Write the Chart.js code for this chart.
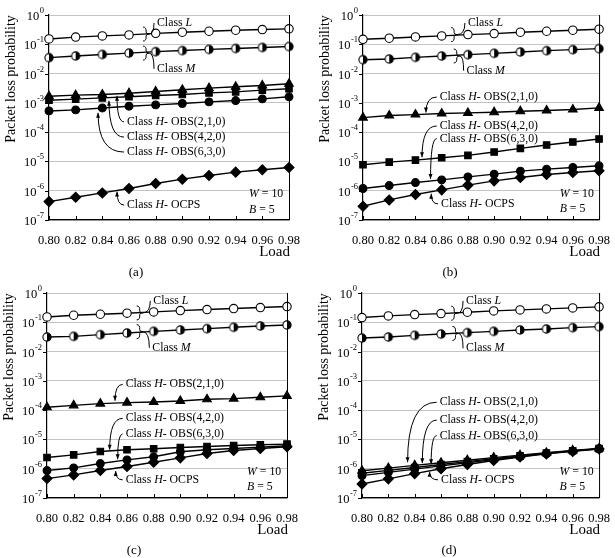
<!DOCTYPE html>
<html>
<head>
<meta charset="utf-8">
<script src="https://cdn.jsdelivr.net/npm/chart.js@4/dist/chart.umd.min.js"></script>
<style>
  html, body { margin: 0; background: #fff; }
  #wrap { position: relative; width: 615px; height: 558px; }
  canvas { position: absolute; }
</style>
</head>
<body>
<div id="wrap">
  <canvas id="pa" width="307" height="279" style="left:0;top:0"></canvas>
  <canvas id="pb" width="308" height="279" style="left:307px;top:0"></canvas>
  <canvas id="pc" width="307" height="279" style="left:0;top:279px"></canvas>
  <canvas id="pd" width="308" height="279" style="left:307px;top:279px"></canvas>
</div>
<script>
// ---------- data ----------
const loads  = [0.80, 0.82, 0.84, 0.86, 0.88, 0.90, 0.92, 0.94, 0.96, 0.98];
const yTicks = [1, 1e-1, 1e-2, 1e-3, 1e-4, 1e-5, 1e-6, 1e-7];

// (a)
const aL   = [0.152, 0.176, 0.193, 0.209, 0.236, 0.258, 0.279, 0.302, 0.318, 0.336];
const aM   = [0.035, 0.040, 0.045, 0.050, 0.056, 0.061, 0.067, 0.072, 0.078, 0.084];
const aH21 = [1.69e-3, 1.83e-3, 1.93e-3, 2.14e-3, 2.45e-3, 2.79e-3, 3.18e-3, 3.54e-3, 3.93e-3, 4.48e-3];
const aH42 = [1.23e-3, 1.34e-3, 1.48e-3, 1.61e-3, 1.78e-3, 1.93e-3, 2.20e-3, 2.38e-3, 2.72e-3, 3.02e-3];
const aH63 = [5.3e-4, 5.75e-4, 6.7e-4, 7.7e-4, 8.5e-4, 9.5e-4, 1.08e-3, 1.20e-3, 1.37e-3, 1.61e-3];
const aOC  = [4.25e-7, 6.0e-7, 8.4e-7, 1.19e-6, 1.76e-6, 2.48e-6, 3.31e-6, 4.31e-6, 5.18e-6, 6.23e-6];
// (b)
const bL   = [0.148, 0.161, 0.178, 0.193, 0.214, 0.232, 0.258, 0.279, 0.302, 0.327];
const bM   = [0.0298, 0.0314, 0.0358, 0.0398, 0.0442, 0.0491, 0.0546, 0.0607, 0.0657, 0.071];
const bH21 = [3.14e-4, 3.68e-4, 3.98e-4, 4.31e-4, 4.54e-4, 4.79e-4, 5.18e-4, 5.46e-4, 5.9e-4, 6.74e-4];
const bH42 = [7.7e-6, 9.5e-6, 1.11e-5, 1.34e-5, 1.61e-5, 2.09e-5, 2.79e-5, 3.63e-5, 4.6e-5, 5.83e-5];
const bH63 = [1.19e-6, 1.5e-6, 1.9e-6, 2.35e-6, 2.98e-6, 3.68e-6, 4.67e-6, 5.46e-6, 6.23e-6, 7.1e-6];
const bOC  = [2.94e-7, 4.85e-7, 7.4e-7, 1.07e-6, 1.55e-6, 2.17e-6, 2.83e-6, 3.58e-6, 4.2e-6, 4.79e-6];
// (c)
const cL   = [0.152, 0.174, 0.188, 0.204, 0.226, 0.251, 0.272, 0.294, 0.318, 0.344];
const cM   = [0.0314, 0.0331, 0.0378, 0.043, 0.0491, 0.0546, 0.0607, 0.0674, 0.0748, 0.081];
const cH21 = [1.25e-4, 1.46e-4, 1.67e-4, 1.81e-4, 1.9e-4, 2.06e-4, 2.35e-4, 2.48e-4, 2.75e-4, 3.06e-4];
const cH42 = [2.42e-6, 2.98e-6, 3.88e-6, 4.42e-6, 4.79e-6, 5.32e-6, 5.75e-6, 6.23e-6, 6.57e-6, 6.92e-6];
const cH63 = [8.65e-7, 1.07e-6, 1.5e-6, 2.01e-6, 2.55e-6, 3.78e-6, 4.42e-6, 4.91e-6, 5.46e-6, 6.07e-6];
const cOC  = [4.6e-7, 6.15e-7, 8.65e-7, 1.19e-6, 1.67e-6, 2.35e-6, 3.31e-6, 4.2e-6, 4.91e-6, 5.6e-6];
// (d)
const dL   = [0.145, 0.165, 0.183, 0.198, 0.22, 0.245, 0.265, 0.287, 0.31, 0.336];
const dM   = [0.029, 0.0314, 0.0358, 0.0398, 0.0442, 0.0491, 0.0546, 0.059, 0.0657, 0.071];
const dH21 = [8.5e-7, 1.05e-6, 1.3e-6, 1.6e-6, 1.95e-6, 2.4e-6, 2.9e-6, 3.5e-6, 4.2e-6, 4.9e-6];
const dH42 = [7.0e-7, 8.8e-7, 1.1e-6, 1.4e-6, 1.75e-6, 2.2e-6, 2.75e-6, 3.4e-6, 4.1e-6, 4.85e-6];
const dH63 = [5.8e-7, 7.5e-7, 9.7e-7, 1.25e-6, 1.6e-6, 2.05e-6, 2.6e-6, 3.3e-6, 4.0e-6, 4.8e-6];
const dOC  = [3.0e-7, 4.5e-7, 6.8e-7, 1.0e-6, 1.4e-6, 1.9e-6, 2.5e-6, 3.2e-6, 3.9e-6, 4.7e-6];

const SERIF = '"Liberation Serif", "Times New Roman", serif';

// half-filled circle marker for class M
function halfDot(r) {
  const s = Math.ceil(r * 2 + 3);
  const c = document.createElement('canvas');
  c.width = s; c.height = s;
  const g = c.getContext('2d');
  const m = s / 2;
  g.fillStyle = '#fff';
  g.beginPath(); g.arc(m, m, r, 0, Math.PI * 2); g.fill();
  g.fillStyle = '#000';
  g.beginPath(); g.arc(m, m, r, -Math.PI / 2, Math.PI / 2); g.closePath(); g.fill();
  g.strokeStyle = '#000'; g.lineWidth = 1.1;
  g.beginPath(); g.arc(m, m, r, 0, Math.PI * 2); g.stroke();
  return c;
}
const HALF = halfDot(4.1);

function line(vals, style, radius, fill) {
  return {
    data: loads.map((x, i) => ({ x, y: vals[i] })),
    borderColor: '#000', borderWidth: 1.4,
    pointStyle: style, pointRadius: radius,
    pointBackgroundColor: fill, pointBorderColor: '#000', pointBorderWidth: 1.1,
    clip: false, tension: 0
  };
}

function seriesFor(L, M, H21, H42, H63, OC) {
  return [
    line(L,   'circle',   4.2, '#fff'),
    line(M,   HALF,       4.1, '#000'),
    line(H21, 'triangle', 5.0, '#000'),
    line(H42, 'rect',     4.6, '#000'),
    line(H63, 'circle',   3.9, '#000'),
    line(OC,  'rectRot',  5.0, '#000')
  ];
}

const H = (rest) => [['Class ', false], ['H', true], [rest, false]];

function drawParts(ctx, parts, x, y, size) {
  parts.forEach(([t, it]) => {
    ctx.font = (it ? 'italic ' : '') + size + 'px ' + SERIF;
    ctx.fillText(t, x, y);
    x += ctx.measureText(t).width;
  });
}

function panelPlugin(caption, notes) {
  return {
    id: 'panel',
    afterDraw(chart) {
      const ctx = chart.ctx;
      const a = chart.chartArea;
      const xs = chart.scales.x, ys = chart.scales.y;
      const px = v => xs.getPixelForValue(v);
      const py = e => ys.getPixelForValue(Math.pow(10, e));
      ctx.save();
      ctx.strokeStyle = '#000'; ctx.fillStyle = '#000'; ctx.lineWidth = 1;

      // right border
      ctx.beginPath(); ctx.moveTo(a.right + 0.5, a.top); ctx.lineTo(a.right + 0.5, a.bottom); ctx.stroke();
      // x ticks (inward)
      loads.forEach(v => {
        const x = Math.round(px(v)) + 0.5;
        ctx.beginPath(); ctx.moveTo(x, a.bottom); ctx.lineTo(x, a.bottom - 4); ctx.stroke();
      });
      // y ticks (outward) and labels with superscript
      ctx.textBaseline = 'middle';
      yTicks.forEach(v => {
        const e = Math.round(Math.log10(v));
        const y = Math.round(ys.getPixelForValue(v)) + 0.5;
        ctx.beginPath(); ctx.moveTo(a.left - 4, y); ctx.lineTo(a.left, y); ctx.stroke();
        const ex = e === 0 ? '0' : '-' + Math.abs(e);
        ctx.textAlign = 'right';
        ctx.font = '8.5px ' + SERIF;
        const ew = ctx.measureText(ex).width;
        ctx.fillText(ex, a.left - 5, y - 5);
        ctx.font = '12.5px ' + SERIF;
        ctx.fillText('10', a.left - 5.5 - ew, y + 1);
      });
      // axis titles
      ctx.font = '15px ' + SERIF;
      ctx.textAlign = 'right';
      ctx.fillText('Load', a.right + 1, a.bottom + 32);
      ctx.font = '13px ' + SERIF;
      ctx.textAlign = 'center';
      ctx.fillText(caption, a.left + 87, a.bottom + 53);
      ctx.save();
      ctx.translate(a.left - 38, a.top + 64);
      ctx.rotate(-Math.PI / 2);
      ctx.font = '14px ' + SERIF;
      ctx.fillText('Packet loss probability', 0, 0);
      ctx.restore();

      // annotations
      ctx.textAlign = 'left';
      notes.forEach(n => {
        const tx = px(n.at[0]), ty = py(n.at[1]);
        drawParts(ctx, n.parts, tx, ty, 11.8);
        if (!n.to) return;
        const sx = tx - 3, sy = ty;
        const ex = px(n.to[0]), ey = py(n.to[1]);
        ctx.beginPath();
        ctx.moveTo(sx, sy);
        if (n.brace) ctx.quadraticCurveTo(sx, ey, ex + 1, ey);
        else ctx.quadraticCurveTo(ex, sy, ex, ey);
        ctx.stroke();
        if (n.brace) {
          const h = 14, bx = ex;
          ctx.beginPath();
          ctx.moveTo(bx - 5, ey - h / 2);
          ctx.quadraticCurveTo(bx - 1.5, ey - h / 2, bx - 2, ey - 2);
          ctx.quadraticCurveTo(bx - 2, ey, bx + 1, ey);
          ctx.moveTo(bx + 1, ey);
          ctx.quadraticCurveTo(bx - 2, ey, bx - 2, ey + 2);
          ctx.quadraticCurveTo(bx - 1.5, ey + h / 2, bx - 5, ey + h / 2);
          ctx.stroke();
        } else {
          const d = ey > sy ? 1 : -1;
          ctx.beginPath();
          ctx.moveTo(ex, ey);
          ctx.lineTo(ex - 2, ey - d * 5);
          ctx.lineTo(ex + 2, ey - d * 5);
          ctx.closePath(); ctx.fill();
        }
      });
      ctx.restore();
    }
  };
}

function makePanel(id, caption, datasets, notes, box) {
  new Chart(document.getElementById(id), {
    type: 'line',
    data: { datasets },
    options: {
      responsive: false,
      animation: false,
      devicePixelRatio: 1,
      layout: { padding: { left: 0, right: box.padR, top: box.padT, bottom: 0 } },
      plugins: { legend: { display: false }, tooltip: { enabled: false } },
      scales: {
        x: {
          type: 'linear', min: 0.8, max: 0.98,
          afterBuildTicks: s => { s.ticks = loads.map(v => ({ value: v })); },
          afterFit: s => { s.height = box.xH; },
          grid: { display: false },
          border: { display: true, color: '#000', width: 1.2 },
          ticks: {
            color: '#000', padding: 5, maxRotation: 0, autoSkip: false,
            font: { family: SERIF, size: 12.5 },
            callback: v => v.toFixed(2)
          }
        },
        y: {
          type: 'logarithmic', min: 1e-7, max: 1,
          afterBuildTicks: s => { s.ticks = yTicks.map(v => ({ value: v })); },
          afterFit: s => { s.width = box.yW; },
          grid: { color: '#c4c4c4', lineWidth: 1, drawTicks: false },
          border: { display: true, color: '#000', width: 1.2 },
          ticks: { display: false }
        }
      }
    },
    plugins: [panelPlugin(caption, notes)]
  });
}

const W = (y) => [{ parts: [['W', true], [' = 10', false]], at: [0.95, y] },
                  { parts: [['B', true], [' = 5', false]], at: [0.95, y - 0.53] }];

makePanel('pa', '(a)', seriesFor(aL, aM, aH21, aH42, aH63, aOC), [
  { parts: [['Class ', false], ['L', true]], at: [0.881, -0.27], to: [0.8743, -0.65], brace: true },
  { parts: [['Class ', false], ['M', true]], at: [0.881, -1.84], to: [0.8743, -1.30], brace: true },
  { parts: H('- OBS(2,1,0)'), at: [0.8585, -3.65], to: [0.851, -2.76] },
  { parts: H('- OBS(4,2,0)'), at: [0.8585, -4.17], to: [0.845, -2.93] },
  { parts: H('- OBS(6,3,0)'), at: [0.8585, -4.68], to: [0.8368, -3.34] },
  { parts: H('- OCPS'),       at: [0.8585, -6.49], to: [0.851, -6.03] }
].concat(W(-6.11)), { padR: 18, padT: 15, yW: 49, xH: 59 });

makePanel('pb', '(b)', seriesFor(bL, bM, bH21, bH42, bH63, bOC), [
  { parts: [['Class ', false], ['L', true]], at: [0.880, -0.27], to: [0.871, -0.67], brace: true },
  { parts: [['Class ', false], ['M', true]], at: [0.879, -1.90], to: [0.873, -1.40], brace: true },
  { parts: H('- OBS(2,1,0)'), at: [0.8585, -2.80], to: [0.848, -3.33] },
  { parts: H('- OBS(4,2,0)'), at: [0.8585, -3.79], to: [0.845, -4.86] },
  { parts: H('- OBS(6,3,0)'), at: [0.8585, -4.22], to: [0.8515, -5.60] },
  { parts: H('- OCPS'),       at: [0.8595, -6.45], to: [0.852, -6.10] }
].concat(W(-6.10)), { padR: 12, padT: 15, yW: 56, xH: 59 });

makePanel('pc', '(c)', seriesFor(cL, cM, cH21, cH42, cH63, cOC), [
  { parts: [['Class ', false], ['L', true]], at: [0.8797, -0.27], to: [0.871, -0.68], brace: true },
  { parts: [['Class ', false], ['M', true]], at: [0.879, -1.87], to: [0.871, -1.32], brace: true },
  { parts: H('- OBS(2,1,0)'), at: [0.859, -3.12], to: [0.851, -3.68] },
  { parts: H('- OBS(4,2,0)'), at: [0.859, -4.28], to: [0.847, -5.35] },
  { parts: H('- OBS(6,3,0)'), at: [0.859, -4.81], to: [0.853, -5.68] },
  { parts: H('- OCPS'),       at: [0.859, -6.38], to: [0.8515, -6.08] }
].concat(W(-6.10)), { padR: 20, padT: 14, yW: 47, xH: 60 });

makePanel('pd', '(d)', seriesFor(dL, dM, dH21, dH42, dH63, dOC), [
  { parts: [['Class ', false], ['L', true]], at: [0.879, -0.27], to: [0.8715, -0.69], brace: true },
  { parts: [['Class ', false], ['M', true]], at: [0.879, -1.89], to: [0.8725, -1.38], brace: true },
  { parts: H('- OBS(2,1,0)'), at: [0.859, -3.73], to: [0.8346, -5.78] },
  { parts: H('- OBS(4,2,0)'), at: [0.859, -4.34], to: [0.8458, -5.81] },
  { parts: H('- OBS(6,3,0)'), at: [0.859, -4.87], to: [0.8525, -5.85] },
  { parts: H('- OCPS'),       at: [0.86, -6.38],  to: [0.8513, -6.10] }
].concat(W(-6.10)), { padR: 12, padT: 14, yW: 55, xH: 60 });
</script>
</body>
</html>
